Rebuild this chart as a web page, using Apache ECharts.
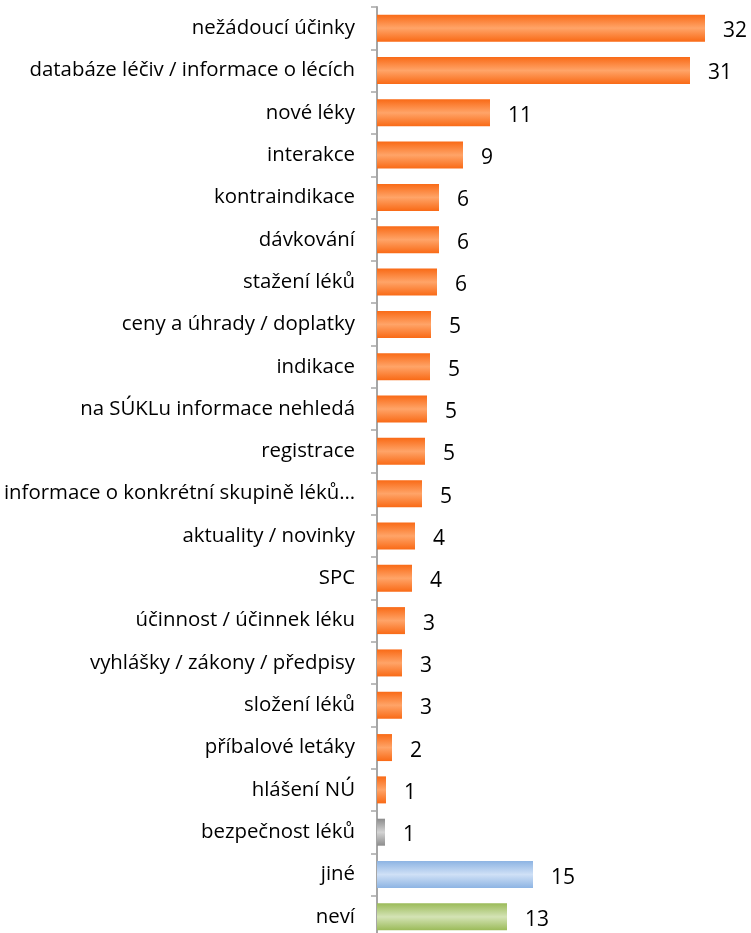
<!DOCTYPE html>
<html>
<head>
<meta charset="utf-8">
<script src="https://cdn.jsdelivr.net/npm/echarts@6/dist/echarts.min.js"></script>
<style>html,body{margin:0;padding:0;background:#fff}#c{width:751px;height:933px}</style>
</head>
<body>
<div id="c"></div>
<script>
const categories = [
  'nežádoucí účinky',
  'databáze léčiv / informace o lécích',
  'nové léky',
  'interakce',
  'kontraindikace',
  'dávkování',
  'stažení léků',
  'ceny a úhrady / doplatky',
  'indikace',
  'na SÚKLu informace nehledá',
  'registrace',
  'informace o konkrétní skupině léků…',
  'aktuality / novinky',
  'SPC',
  'účinnost / účinnek léku',
  'vyhlášky / zákony / předpisy',
  'složení léků',
  'příbalové letáky',
  'hlášení NÚ',
  'bezpečnost léků',
  'jiné',
  'neví'
];
const values = [32.8, 31.3, 11.3, 8.6, 6.2, 6.2, 6.0, 5.4, 5.3, 5.0, 4.8, 4.5, 3.8, 3.5, 2.8, 2.5, 2.5, 1.5, 0.9, 0.8, 15.6, 13.0];
const valueLabels = ['32', '31', '11', '9', '6', '6', '6', '5', '5', '5', '5', '5', '4', '4', '3', '3', '3', '2', '1', '1', '15', '13'];

function grad(edge, mid) {
  return new echarts.graphic.LinearGradient(0, 0, 0, 1, [
    {offset: 0, color: edge}, {offset: 0.5, color: mid}, {offset: 1, color: edge}
  ]);
}
const palettes = {
  orange: ['#F96A16', '#FFA468'],
  gray: ['#8C8C8C', '#D4D4D4'],
  blue: ['#8DB4E3', '#CFE0F6'],
  green: ['#9BBB59', '#D4E3B5']
};
function paletteFor(name) {
  if (name === 'bezpečnost léků') return palettes.gray;
  if (name === 'jiné') return palettes.blue;
  if (name === 'neví') return palettes.green;
  return palettes.orange;
}
const data = values.map((v, i) => {
  const p = paletteFor(categories[i]);
  return {value: v, itemStyle: {color: grad(p[0], p[1])}};
});

const chart = echarts.init(document.getElementById('c'), null, {renderer: 'canvas'});
chart.setOption({
  animation: false,
  grid: {left: 377, right: 14, top: 7, bottom: -5, containLabel: false, outerBoundsMode: 'none'},
  xAxis: {
    type: 'value', min: 0, max: 36,
    show: false, splitLine: {show: false}
  },
  yAxis: {
    type: 'category', data: categories, inverse: true,
    axisLine: {show: true, lineStyle: {color: '#A6A6A6', width: 2}},
    axisTick: {show: true, length: 6, lineStyle: {color: '#A6A6A6', width: 1.5}},
    axisLabel: {
      color: '#000', fontFamily: 'Open Sans', fontSize: 20.4, margin: 22
    }
  },
  series: [{
    type: 'bar', data: data, barWidth: 27,
    label: {
      show: true, position: 'right', distance: 18, offset: [0, 3],
      color: '#000', fontFamily: 'Open Sans', fontSize: 21,
      formatter: p => valueLabels[p.dataIndex]
    }
  }]
});
</script>
</body>
</html>
